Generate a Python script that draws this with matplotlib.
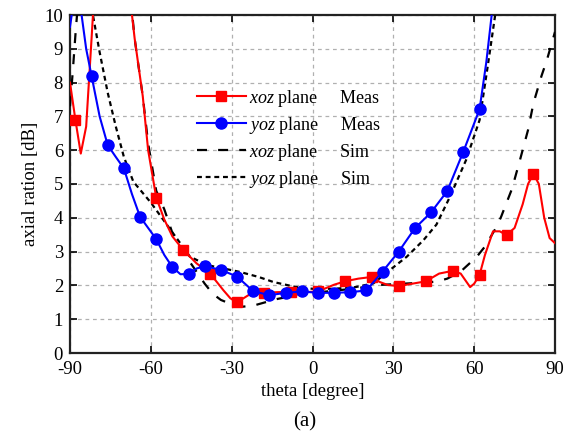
import matplotlib
matplotlib.use("Agg")
import matplotlib.pyplot as plt

plt.rcParams['font.family'] = ['Liberation Serif', 'DejaVu Serif']
plt.rcParams['mathtext.fontset'] = 'custom'
plt.rcParams['mathtext.rm'] = 'Liberation Serif'
plt.rcParams['mathtext.it'] = 'Liberation Serif:italic'

# xoz plane, measured (line points, markers at red_mark_theta)
red_theta = [-90, -88, -86, -84, -82, -80, -70, -67, -66, -63, -61, -58, -55, -52,
             -48, -43, -38, -33, -30.5, -28, -23, -18, -13, -8, -3, 2, 5, 8, 12,
             17, 22, 25, 28, 32, 37, 42, 47, 52, 55, 58.5, 60, 62, 64, 67, 69.5,
             72, 75, 78, 80, 82, 84, 86, 88, 90]
red_ar = [8.0, 6.9, 5.9, 6.7, 9.3, 12.0, 12.5, 10.0, 9.3, 7.6, 6.0, 4.6, 3.95, 3.45,
          3.05, 2.65, 2.35, 1.85, 1.62, 1.5, 1.75, 1.78, 1.8, 1.81, 1.8, 1.82, 1.92,
          2.02, 2.12, 2.2, 2.25, 2.1, 2.01, 1.98, 2.05, 2.12, 2.35, 2.43, 2.35, 1.95,
          2.05, 2.31, 2.9, 3.6, 3.6, 3.49, 3.7, 4.4, 5.0, 5.3, 5.0, 4.0, 3.4, 3.25]
red_mark_theta = [-88, -58, -48, -38, -28, -18, -8, 2, 12, 22, 32, 42, 52, 62, 72, 82]

# yoz plane, measured
blue_theta = [-90, -89, -87, -85.7, -84, -82, -79, -76, -73, -70, -67, -64, -61, -58,
              -55, -52, -49, -46, -43, -40, -34, -28, -22, -16, -10, -4, 2, 8, 14,
              20, 26, 32, 38, 44, 50, 56, 62, 64.5, 66.5, 68]
blue_ar = [9.65, 10.2, 11.0, 10.0, 9.0, 8.2, 7.0, 6.15, 5.8, 5.46, 4.7, 4.03, 3.7, 3.37,
           2.9, 2.54, 2.33, 2.34, 2.5, 2.57, 2.46, 2.26, 1.83, 1.71, 1.78, 1.82, 1.78,
           1.78, 1.8, 1.85, 2.41, 3.0, 3.69, 4.16, 4.79, 5.96, 7.21, 8.6, 10.0, 11.2]
blue_mark_theta = [-82, -76, -70, -64, -58, -52, -46, -40, -34, -28, -22, -16, -10,
                   -4, 2, 8, 14, 20, 26, 32, 38, 44, 50, 56, 62]

# xoz plane, simulated
xoz_sim_theta = [-90, -89, -88, -87, -85, -76, -69, -67, -66, -63, -61, -58, -55, -52,
                 -49, -46, -43, -40, -37, -34, -30, -26, -22, -18, -13, -8, -3, 4, 16,
                 24, 36, 46, 50, 55, 61, 64, 68, 70, 74, 77, 80, 82, 85, 87, 90]
xoz_sim_ar = [7.3, 8.3, 9.4, 10.4, 12.0, 14.0, 11.5, 10.1, 9.3, 7.6, 6.2, 4.8, 4.25,
              3.55, 3.1, 2.75, 2.4, 2.05, 1.75, 1.57, 1.44, 1.37, 1.4, 1.49, 1.6, 1.68,
              1.77, 1.81, 1.91, 2.01, 2.06, 2.11, 2.2, 2.41, 2.85, 3.15, 3.69, 4.03,
              4.85, 5.71, 6.6, 7.39, 8.2, 8.67, 9.5]

# yoz plane, simulated
yoz_sim_theta = [-84, -81.5, -79, -76, -73, -70, -66.5, -60, -55, -50, -45.5, -39, -33,
                 -27, -20, -14.5, -6, 0, 8, 16, 22.6, 28.8, 35, 41.2, 46, 51, 57, 62,
                 65, 67.8, 69]
yoz_sim_ar = [12.0, 10.0, 8.9, 7.7, 6.7, 5.8, 5.07, 4.45, 3.9, 3.35, 2.85, 2.6, 2.5,
              2.4, 2.25, 2.1, 1.95, 1.9, 1.9, 1.95, 2.06, 2.46, 2.85, 3.34, 3.8, 4.62,
              5.71, 6.89, 8.47, 10.0, 11.0]

x_ticks = [-90, -60, -30, 0, 30, 60, 90]
y_ticks = list(range(0, 11))

fig = plt.figure(figsize=(5.65, 4.42), dpi=100)
ax = fig.add_axes([70 / 565, 89 / 442, 485 / 565, 338 / 442])

red_idx = [i for i, t in enumerate(red_theta) if t in red_mark_theta]
blue_idx = [i for i, t in enumerate(blue_theta) if t in blue_mark_theta]

ax.plot(red_theta, red_ar, color='#ff0000', lw=1.5, marker='s', markersize=7,
        markevery=red_idx, label=r'$xoz$ plane     Meas', zorder=4)
ax.plot(blue_theta, blue_ar, color='#0000ff', lw=1.5, marker='o', markersize=8,
        markevery=blue_idx, label=r'$yoz$ plane     Meas', zorder=4)
ax.plot(xoz_sim_theta, xoz_sim_ar, color='black', lw=1.6, dashes=(4.5, 5.0),
        label=r'$xoz$ plane     Sim', zorder=3)
ax.plot(yoz_sim_theta, yoz_sim_ar, color='black', lw=1.6, dashes=(2.2, 1.7),
        label=r'$yoz$ plane     Sim', zorder=3)

ax.set_xlim(-90, 90)
ax.set_ylim(0, 10)
ax.set_xticks(x_ticks)
ax.set_xticklabels([str(t) for t in x_ticks])
ax.set_yticks(y_ticks)
ax.grid(True, color='#b0b0b0', linestyle=(0, (3, 3)), lw=0.9)
ax.tick_params(direction='in', top=True, right=True, length=5, width=1.2,
               labelsize=13.5, pad=5)
ax.tick_params(axis='x', pad=6)
for sp in ax.spines.values():
    sp.set_linewidth(1.6)
    sp.set_color('#222222')

ax.set_xlabel("theta [degree]", fontsize=13.5, labelpad=3)
ax.set_ylabel("axial ration [dB]", fontsize=13.5, labelpad=4)

ax.legend(loc='upper left', bbox_to_anchor=(0.262, 0.785), frameon=False,
          fontsize=13, handlelength=2.7, handletextpad=0.2, labelspacing=0.33,
          borderpad=0, borderaxespad=0)

fig.text(0.54, 0.045, "(a)", fontsize=15, ha='center', va='center')

fig.savefig("out.png", dpi=100)
